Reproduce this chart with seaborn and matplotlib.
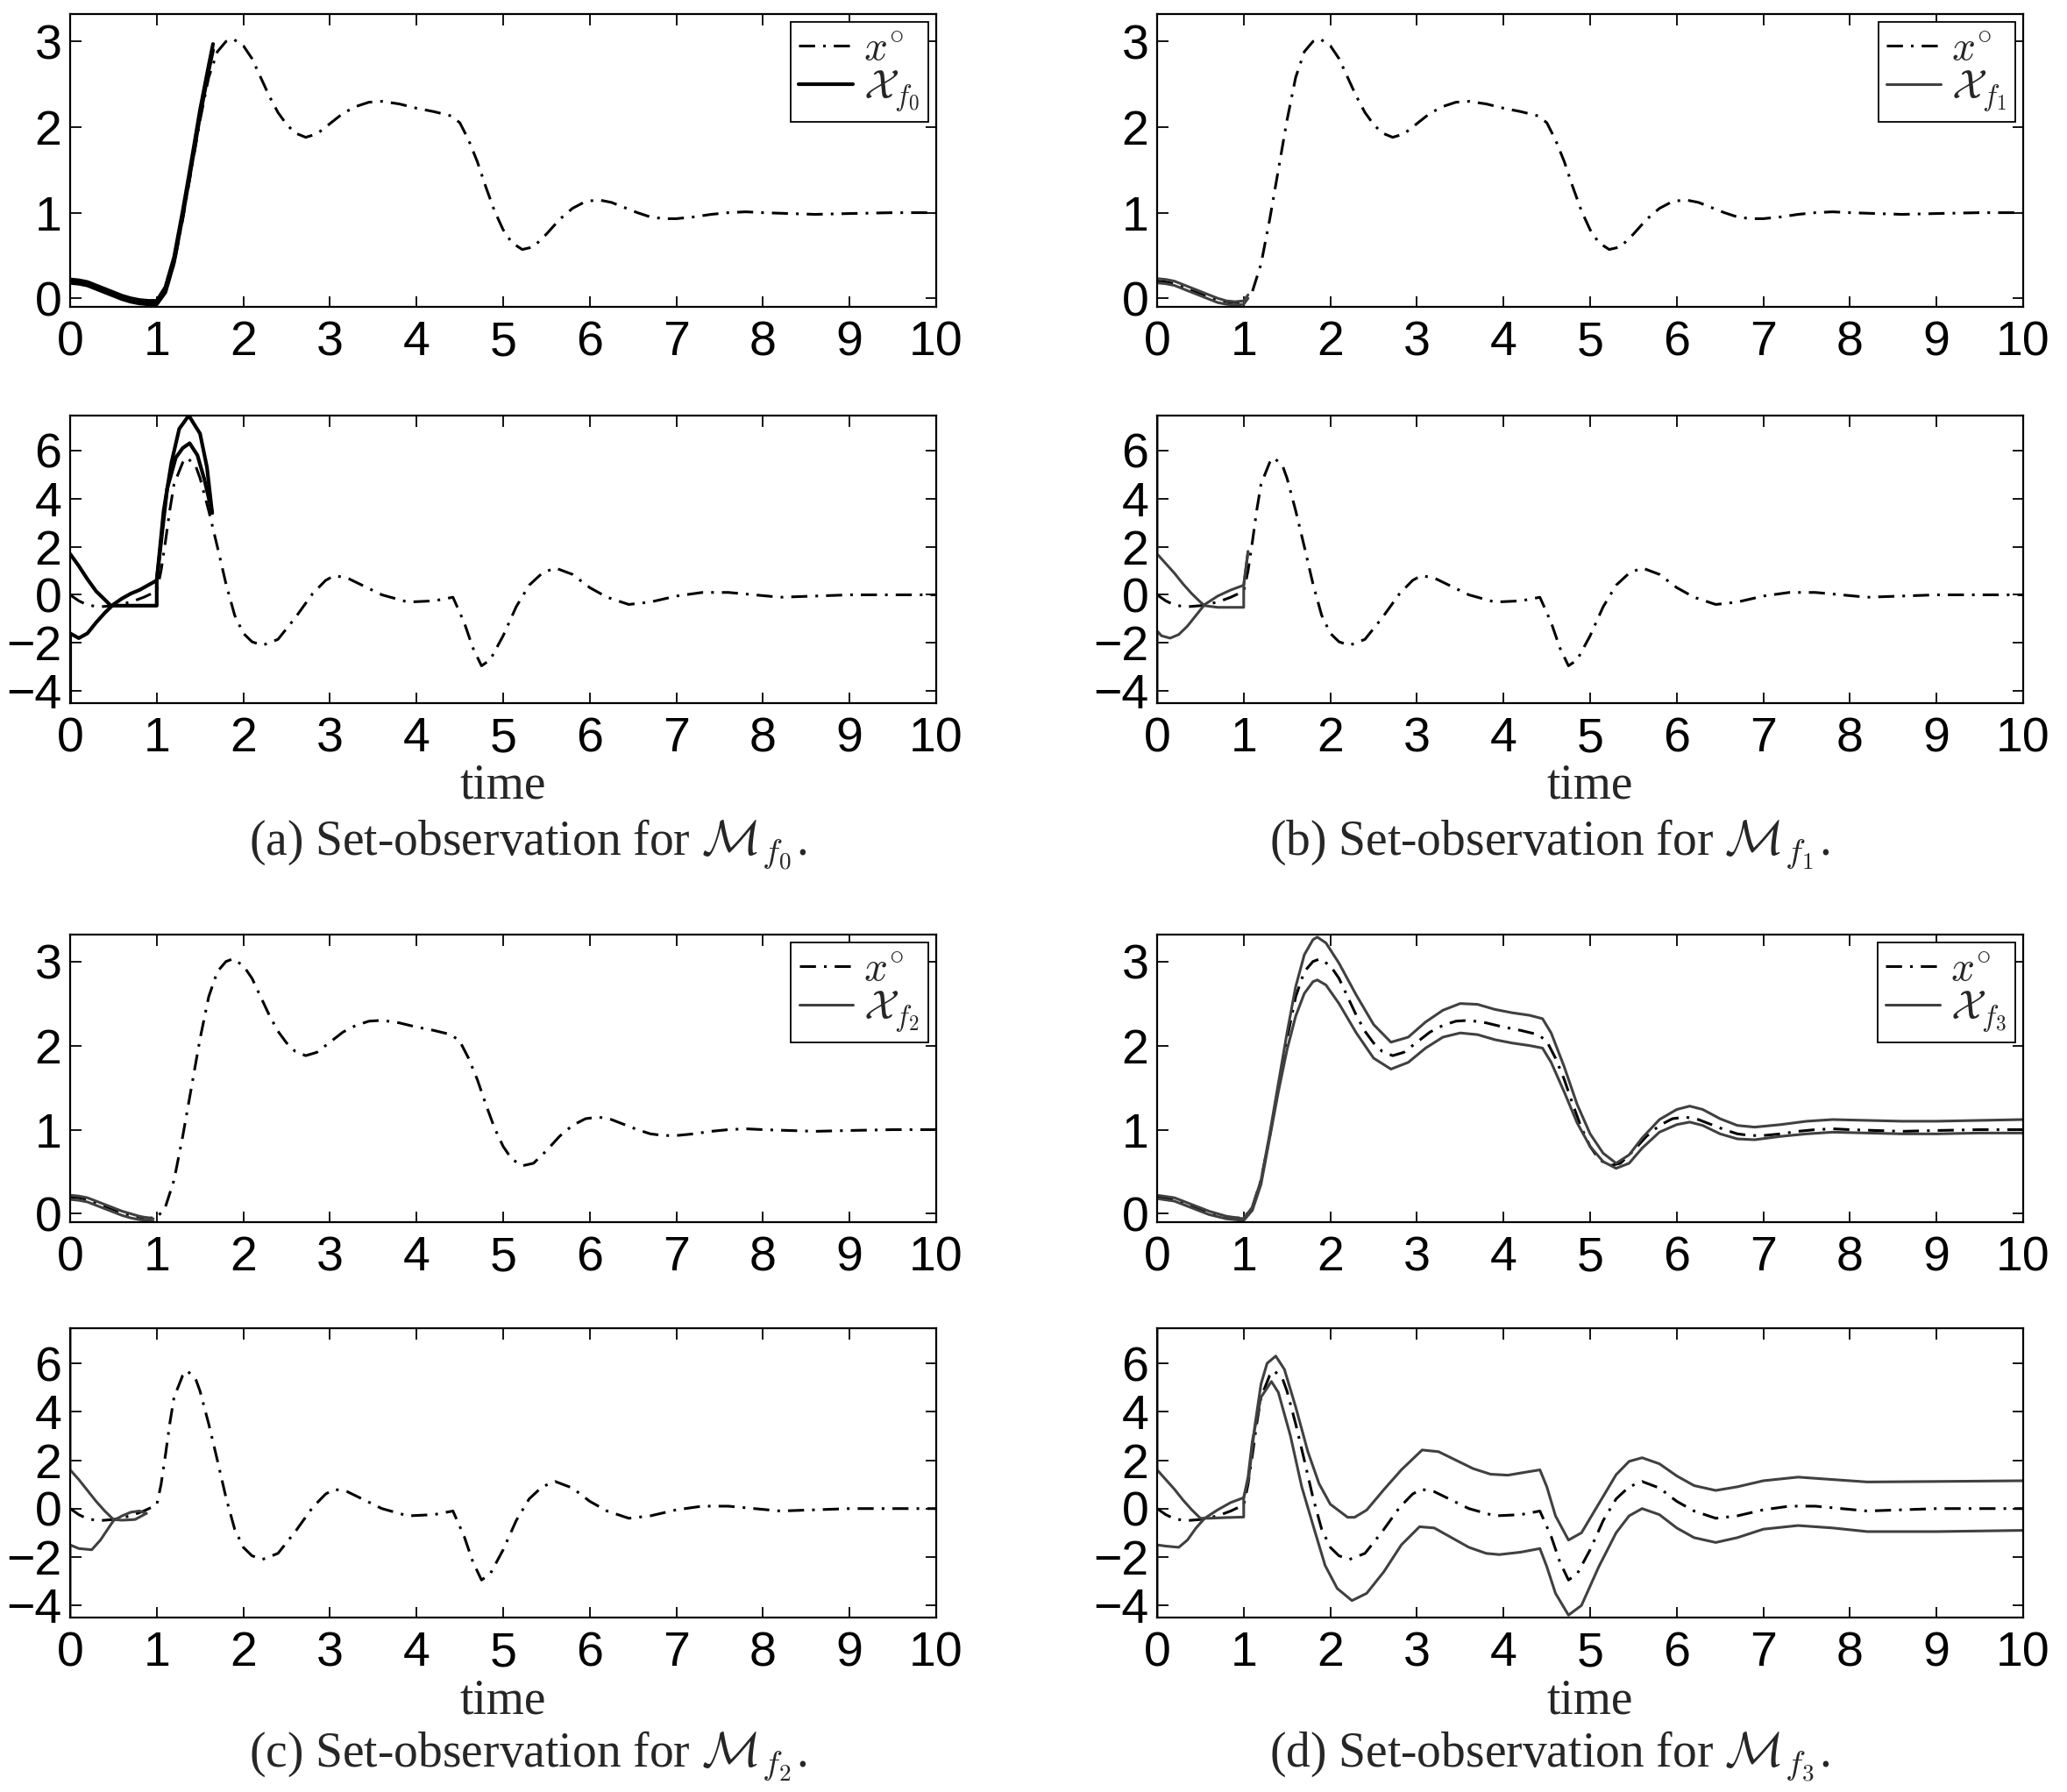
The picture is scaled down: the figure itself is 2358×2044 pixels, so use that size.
import matplotlib
matplotlib.use("Agg")
import seaborn as sns
import numpy as np
from matplotlib import pyplot as plt

# nominal trajectory x°, position and velocity
t_pos = [0, 0.1, 0.2, 0.3, 0.4, 0.5, 0.6, 0.7, 0.8, 0.9,
         1.0, 1.1, 1.2, 1.3, 1.4, 1.5, 1.6, 1.7, 1.8, 1.88,
         2.0, 2.1, 2.2, 2.3, 2.4, 2.5, 2.6, 2.72, 2.85, 3.0,
         3.15, 3.3, 3.45, 3.6, 3.8, 4.0, 4.2, 4.4, 4.5, 4.6,
         4.7, 4.8, 4.9, 5.0, 5.1, 5.22, 5.35, 5.5, 5.65, 5.8,
         5.95, 6.1, 6.25, 6.4, 6.55, 6.7, 6.85, 7.0, 7.2, 7.4,
         7.6, 7.8, 8.0, 8.3, 8.6, 9.0, 9.5, 10]
x_pos = [0.2, 0.19, 0.17, 0.13, 0.09, 0.05, 0.01, -0.02, -0.04, -0.05,
         -0.05, 0.08, 0.4, 0.92, 1.5, 2.08, 2.58, 2.88, 3.0, 3.03,
         2.95, 2.8, 2.58, 2.36, 2.17, 2.03, 1.93, 1.88, 1.92, 2.04,
         2.16, 2.24, 2.29, 2.3, 2.27, 2.22, 2.18, 2.13, 2.05, 1.85,
         1.6, 1.3, 1.02, 0.8, 0.65, 0.57, 0.6, 0.75, 0.92, 1.05,
         1.13, 1.15, 1.12, 1.06, 1.0, 0.95, 0.93, 0.93, 0.95, 0.98,
         1.0, 1.01, 1.0, 0.99, 0.98, 0.99, 1.0, 1.0]

t_vel = [0, 0.1, 0.2, 0.33, 0.5, 0.7, 0.85, 1.0, 1.05, 1.1,
         1.15, 1.2, 1.3, 1.35, 1.45, 1.5, 1.6, 1.7, 1.8, 1.9,
         2.0, 2.1, 2.22, 2.4, 2.6, 2.8, 2.95, 3.05, 3.2, 3.4,
         3.6, 3.9, 4.2, 4.42, 4.55, 4.65, 4.75, 4.85, 5.0, 5.15,
         5.3, 5.45, 5.6, 5.8, 6.0, 6.2, 6.45, 6.7, 7.0, 7.3,
         7.6, 7.9, 8.2, 8.6, 9.0, 9.5, 10]
v_vel = [0, -0.25, -0.42, -0.5, -0.45, -0.3, -0.1, 0.15, 1.0, 2.2,
         3.5, 4.6, 5.5, 5.7, 5.35, 4.85, 3.5, 2.0, 0.45, -0.85,
         -1.6, -1.95, -2.1, -1.85, -0.95, 0.05, 0.6, 0.8, 0.7, 0.35,
         0.0, -0.3, -0.25, -0.1, -1.15, -2.2, -2.95, -2.7, -1.7, -0.5,
         0.4, 0.9, 1.12, 0.85, 0.3, -0.1, -0.4, -0.3, -0.05, 0.1,
         0.1, 0.0, -0.1, -0.05, 0.0, 0.0, 0.0]

# (a) set X_f0
ta_pos = [0, 0.1, 0.2, 0.3, 0.4, 0.5, 0.6, 0.7, 0.8, 0.9, 1.0, 1.1, 1.2, 1.3, 1.4, 1.5, 1.6, 1.65]
xa_pos_hi = [0.22, 0.21, 0.19, 0.15, 0.11, 0.07, 0.03, 0.0, -0.02, -0.03, -0.03, 0.13, 0.48, 1.02, 1.6, 2.2, 2.72, 2.97]
xa_pos_lo = [0.18, 0.17, 0.15, 0.11, 0.07, 0.03, -0.01, -0.04, -0.06, -0.07, -0.07, 0.07, 0.42, 0.96, 1.54, 2.13, 2.66, 2.9]
ta_v1 = [0, 0.1, 0.2, 0.3, 0.4, 0.47, 0.7, 1.0, 1.0, 1.08, 1.17, 1.26, 1.37, 1.5, 1.58, 1.64]
va_v1 = [1.7, 1.2, 0.65, 0.15, -0.2, -0.45, -0.45, -0.45, 0.6, 3.5, 5.5, 6.9, 7.45, 6.7, 5.3, 3.4]
ta_v2 = [0, 0, 0.1, 0.2, 0.3, 0.4, 0.5, 0.6, 0.7, 0.8, 0.9, 1.0, 1.12, 1.22, 1.3, 1.38, 1.47, 1.55, 1.64]
va_v2 = [-6, -1.6, -1.8, -1.6, -1.15, -0.75, -0.4, -0.15, 0.05, 0.2, 0.4, 0.6, 4.4, 5.7, 6.1, 6.3, 5.8, 4.8, 3.4]

# (b) set X_f1
tb_pos = [0, 0.1, 0.2, 0.3, 0.4, 0.5, 0.6, 0.7, 0.8, 0.9, 1.0, 1.05]
xb_pos_hi = [0.23, 0.22, 0.2, 0.16, 0.12, 0.08, 0.04, 0.0, -0.03, -0.04, -0.03, 0.04]
xb_pos_lo = [0.18, 0.17, 0.15, 0.11, 0.07, 0.03, -0.01, -0.05, -0.07, -0.08, -0.07, 0.0]
tb_v1 = [0, 0, 0.1, 0.2, 0.3, 0.4, 0.5, 0.55, 0.7, 1.0, 1.0, 1.05]
vb_v1 = [9, 1.7, 1.3, 0.9, 0.45, 0.05, -0.3, -0.45, -0.52, -0.52, 0.4, 1.8]
tb_v2 = [0, 0, 0.05, 0.15, 0.25, 0.35, 0.45, 0.55, 0.7, 0.85, 1.0, 1.05]
vb_v2 = [-6, -1.5, -1.7, -1.8, -1.65, -1.3, -0.85, -0.4, -0.05, 0.2, 0.4, 1.8]

# (c) set X_f2
tc_pos = [0, 0.1, 0.2, 0.3, 0.4, 0.5, 0.6, 0.7, 0.8, 0.9, 0.96]
xc_pos_hi = [0.22, 0.21, 0.19, 0.15, 0.11, 0.07, 0.03, 0.0, -0.03, -0.05, -0.06]
xc_pos_lo = [0.17, 0.16, 0.14, 0.1, 0.06, 0.02, -0.02, -0.05, -0.07, -0.08, -0.09]
tc_v1 = [0, 0, 0.1, 0.2, 0.3, 0.4, 0.5, 0.6, 0.75, 0.88]
vc_v1 = [9, 1.6, 1.2, 0.75, 0.3, -0.1, -0.45, -0.48, -0.45, -0.2]
tc_v2 = [0, 0, 0.1, 0.25, 0.35, 0.5, 0.6, 0.7, 0.8, 0.88]
vc_v2 = [-6, -1.5, -1.65, -1.7, -1.3, -0.5, -0.3, -0.15, -0.1, -0.2]

# (d) set X_f3
td_pos = [0, 0.2, 0.4, 0.6, 0.8, 1.0, 1.1, 1.2, 1.3, 1.4,
          1.5, 1.6, 1.7, 1.8, 1.85, 1.95, 2.1, 2.3, 2.5, 2.7,
          2.9, 3.1, 3.3, 3.5, 3.7, 3.9, 4.1, 4.3, 4.45, 4.55,
          4.7, 4.85, 5.0, 5.15, 5.3, 5.45, 5.6, 5.8, 6.0, 6.15,
          6.3, 6.5, 6.7, 6.9, 7.2, 7.5, 7.8, 8.2, 8.6, 9.0,
          9.5, 10]
xd_pos_hi = [0.22, 0.19, 0.11, 0.03, -0.03, -0.06, 0.08, 0.4, 0.95, 1.55,
             2.15, 2.7, 3.08, 3.26, 3.29, 3.22, 2.98, 2.6, 2.25, 2.04,
             2.1, 2.28, 2.42, 2.5, 2.49, 2.43, 2.39, 2.36, 2.32, 2.15,
             1.75, 1.3, 0.95, 0.72, 0.6, 0.7, 0.9, 1.12, 1.24, 1.28,
             1.24, 1.13, 1.05, 1.03, 1.06, 1.1, 1.12, 1.11, 1.1, 1.1,
             1.11, 1.12]
xd_pos_lo = [0.18, 0.15, 0.07, -0.01, -0.06, -0.08, 0.04, 0.35, 0.9, 1.45,
             1.95, 2.35, 2.62, 2.76, 2.78, 2.72, 2.5, 2.15, 1.85, 1.72,
             1.8, 1.97, 2.1, 2.15, 2.13, 2.07, 2.03, 2.0, 1.97, 1.8,
             1.45, 1.08, 0.8, 0.62, 0.54, 0.6, 0.78, 0.97, 1.06, 1.09,
             1.05, 0.95, 0.89, 0.88, 0.92, 0.95, 0.97, 0.96, 0.95, 0.95,
             0.96, 0.96]
td_v_hi = [0, 0, 0.1, 0.2, 0.3, 0.4, 0.5, 0.6, 0.8, 1.0,
           1.0, 1.06, 1.13, 1.2, 1.27, 1.37, 1.47, 1.6, 1.74, 1.87,
           2.0, 2.2, 2.28, 2.42, 2.62, 2.82, 3.06, 3.25, 3.45, 3.65,
           3.85, 4.05, 4.25, 4.42, 4.5, 4.6, 4.75, 4.9, 5.1, 5.3,
           5.45, 5.6, 5.8, 6.0, 6.2, 6.45, 6.7, 7.0, 7.4, 7.8,
           8.2, 9.0, 10]
vd_v_hi = [9, 1.6, 1.2, 0.8, 0.35, -0.05, -0.4, -0.4, -0.37, -0.35,
           0.45, 1.3, 3.45, 5.15, 6.0, 6.3, 5.75, 4.2, 2.36, 1.03,
           0.18, -0.36, -0.36, -0.06, 0.79, 1.6, 2.42, 2.35, 2.0, 1.65,
           1.42, 1.38, 1.5, 1.6, 0.9, -0.3, -1.3, -1.0, 0.2, 1.4,
           1.95, 2.1, 1.85, 1.35, 0.95, 0.75, 0.9, 1.15, 1.3, 1.2,
           1.1, 1.12, 1.15]
td_v_lo = [0, 0, 0.1, 0.25, 0.35, 0.45, 0.55, 0.7, 0.85, 1.0,
           1.05, 1.1, 1.2, 1.32, 1.4, 1.54, 1.67, 1.81, 1.94, 2.08,
           2.25, 2.42, 2.62, 2.82, 3.03, 3.2, 3.4, 3.6, 3.8, 3.95,
           4.2, 4.42, 4.5, 4.6, 4.75, 4.9, 5.1, 5.3, 5.45, 5.6,
           5.8, 6.0, 6.2, 6.45, 6.7, 7.0, 7.4, 7.8, 8.2, 9.0,
           10]
vd_v_lo = [-6, -1.5, -1.55, -1.6, -1.3, -0.8, -0.4, -0.05, 0.25, 0.45,
           1.3, 2.8, 4.6, 5.25, 4.8, 3.0, 0.9, -0.8, -2.35, -3.3,
           -3.8, -3.5, -2.6, -1.5, -0.75, -0.8, -1.2, -1.6, -1.85, -1.9,
           -1.8, -1.65, -2.4, -3.5, -4.4, -4.0, -2.4, -1.0, -0.3, 0.0,
           -0.25, -0.8, -1.2, -1.4, -1.2, -0.85, -0.7, -0.8, -0.95, -0.95,
           -0.9]

x_ticks = list(range(0, 11))
pos_yticks = [0, 1, 2, 3]
vel_yticks = [-4, -2, 0, 2, 4, 6]

panels = [
    # letter, column, row, position sets, velocity sets, subscript, colour, width
    ("a", 0, 0, [(ta_pos, xa_pos_hi), (ta_pos, xa_pos_lo)],
     [(ta_v1, va_v1), (ta_v2, va_v2)], "0", "black", 3.0),
    ("b", 1, 0, [(tb_pos, xb_pos_hi), (tb_pos, xb_pos_lo)],
     [(tb_v1, vb_v1), (tb_v2, vb_v2)], "1", "0.25", 2.2),
    ("c", 0, 1, [(tc_pos, xc_pos_hi), (tc_pos, xc_pos_lo)],
     [(tc_v1, vc_v1), (tc_v2, vc_v2)], "2", "0.25", 2.2),
    ("d", 1, 1, [(td_pos, xd_pos_hi), (td_pos, xd_pos_lo)],
     [(td_v_hi, vd_v_hi), (td_v_lo, vd_v_lo)], "3", "0.25", 2.2),
]

sns.set_style("ticks")
plt.rcParams["font.family"] = ["Liberation Sans", "DejaVu Sans"]
plt.rcParams["mathtext.fontset"] = "cm"
plt.rcParams["axes.linewidth"] = 1.6

W, H = 2358, 2044
fig = plt.figure(figsize=(W / 100, H / 100), dpi=100)

col_x = [80 / W, 1320 / W]
col_w = 988 / W
pos_box = [(1 - 350 / H, 334 / H), (1 - 1394 / H, 328 / H)]
vel_box = [(1 - 802 / H, 328 / H), (1 - 1845 / H, 330 / H)]
cap_x = [602 / W, 1768 / W]
cap_y = [1 - 963 / H, 1 - 2003 / H]

dashdot = (0, (6, 3, 1, 3))


def style_axes(ax, yticks, ylim):
    ax.set_xlim(0, 10)
    ax.set_ylim(*ylim)
    ax.set_xticks(x_ticks)
    ax.set_yticks(yticks)
    ax.tick_params(direction="in", top=True, right=True, length=9, width=1.3,
                   labelsize=40, colors="black")
    ax.tick_params(axis="x", pad=11)
    ax.tick_params(axis="y", pad=7)
    ax.set_xlabel("")
    ax.set_ylabel("")
    for sp in ax.spines.values():
        sp.set_color("black")


for letter, col, row, pos_sets, vel_sets, sub, set_color, set_lw in panels:
    ax1 = fig.add_axes([col_x[col], pos_box[row][0], col_w, pos_box[row][1]])
    sns.lineplot(x=t_pos, y=x_pos, ax=ax1, sort=False, estimator=None,
                 color="black", linewidth=2.2, linestyle=dashdot)
    for ts, xs in pos_sets:
        sns.lineplot(x=ts, y=xs, ax=ax1, sort=False, estimator=None,
                     color=set_color, linewidth=set_lw)
    style_axes(ax1, pos_yticks, (-0.1, 3.32))
    leg = ax1.legend([ax1.lines[0], ax1.lines[1]],
                     [r"$x^{\circ}$", r"$\mathcal{X}_{f_%s}$" % sub],
                     loc="upper right", fontsize=34, frameon=True, fancybox=False,
                     framealpha=1, edgecolor="black", borderaxespad=0.2,
                     borderpad=0.2, labelspacing=0.0, handlelength=1.3,
                     handletextpad=0.25)
    leg.get_frame().set_linewidth(1.3)

    ax2 = fig.add_axes([col_x[col], vel_box[row][0], col_w, vel_box[row][1]])
    sns.lineplot(x=t_vel, y=v_vel, ax=ax2, sort=False, estimator=None,
                 color="black", linewidth=2.2, linestyle=dashdot)
    for ts, vs in vel_sets:
        sns.lineplot(x=ts, y=vs, ax=ax2, sort=False, estimator=None,
                     color=set_color, linewidth=set_lw)
    style_axes(ax2, vel_yticks, (-4.5, 7.45))
    ax2.text(0.5, -0.288, "time", transform=ax2.transAxes, ha="center", va="center",
             fontsize=40, family="Liberation Serif")

    fig.text(cap_x[col], cap_y[row],
             "(%s) Set-observation for $\\mathcal{M}_{f_%s}$." % (letter, sub),
             ha="center", va="center", fontsize=40, family="Liberation Serif")

fig.savefig("out.png", dpi=100)
plt.close(fig)
